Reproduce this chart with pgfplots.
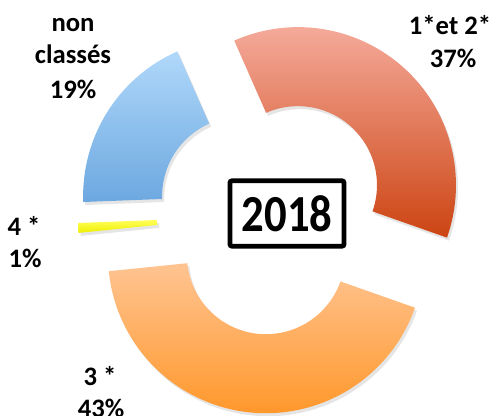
\documentclass[border=0pt]{standalone}
\usepackage{pgfplots}
\usepackage{pgfplotstable}
\pgfplotsset{compat=1.18}
\usepackage{fontspec}
\setmainfont{Carlito}

\definecolor{redtop}{RGB}{249,180,168}
\definecolor{redbot}{RGB}{204,68,18}
\definecolor{ortop}{RGB}{255,196,146}
\definecolor{orbot}{RGB}{255,146,30}
\definecolor{yltop}{RGB}{255,255,90}
\definecolor{ylbot}{RGB}{238,238,0}
\definecolor{bltop}{RGB}{176,216,250}
\definecolor{blbot}{RGB}{108,168,224}

% share (%), explosion offset (px)
\pgfplotstableread{
label pct offset
1et2 37 40
3 43 41
4 1 35
nc 19 35
}\donut

\newcommand{\sector}[4]{%
  \shade[#4]
   (axis cs:{\cx+#3*cos((#1+#2)/2)+\Ro*cos(#1)},{\cy+#3*sin((#1+#2)/2)+\Ro*sin(#1)})
   arc[start angle=#1,end angle=#2,radius=\Ro*0.75pt]
   -- (axis cs:{\cx+#3*cos((#1+#2)/2)+\Ri*cos(#2)},{\cy+#3*sin((#1+#2)/2)+\Ri*sin(#2)})
   arc[start angle=#2,end angle=#1,radius=\Ri*0.75pt] -- cycle;}
\newcommand{\sshadow}[3]{%
  \fill[black,opacity=0.10]
   (axis cs:{\cx+2+#3*cos((#1+#2)/2)+\Ro*cos(#1)},{\cy-3+#3*sin((#1+#2)/2)+\Ro*sin(#1)})
   arc[start angle=#1,end angle=#2,radius=\Ro*0.75pt]
   -- (axis cs:{\cx+2+#3*cos((#1+#2)/2)+\Ri*cos(#2)},{\cy-3+#3*sin((#1+#2)/2)+\Ri*sin(#2)})
   arc[start angle=#2,end angle=#1,radius=\Ri*0.75pt] -- cycle;}

\begin{document}
\begin{tikzpicture}
\def\cx{270.8}\def\cy{200.5}\def\Ro{158}\def\Ri{79}
\pgfplotstablegetelem{0}{pct}\of\donut\let\pA\pgfplotsretval
\pgfplotstablegetelem{1}{pct}\of\donut\let\pB\pgfplotsretval
\pgfplotstablegetelem{2}{pct}\of\donut\let\pC\pgfplotsretval
\pgfplotstablegetelem{3}{pct}\of\donut\let\pD\pgfplotsretval
\pgfplotstablegetelem{0}{offset}\of\donut\let\oA\pgfplotsretval
\pgfplotstablegetelem{1}{offset}\of\donut\let\oB\pgfplotsretval
\pgfplotstablegetelem{2}{offset}\of\donut\let\oC\pgfplotsretval
\pgfplotstablegetelem{3}{offset}\of\donut\let\oD\pgfplotsretval
\pgfmathsetmacro{\aA}{113.8}
\pgfmathsetmacro{\aB}{\aA-3.6*\pA}
\pgfmathsetmacro{\aC}{\aB-3.6*\pB}
\pgfmathsetmacro{\aD}{\aC-3.6*\pC}
\pgfmathsetmacro{\aE}{\aD-3.6*\pD}
\begin{axis}[width=372.75pt,height=311.25pt,scale only axis,
  xmin=0,xmax=497,ymin=0,ymax=415,axis lines=none,clip=false]
\sshadow{\aA}{\aB}{\oA}
\sshadow{\aB}{\aC}{\oB}
\sshadow{\aC}{\aD}{\oC}
\sshadow{\aD}{\aE}{\oD}
\sector{\aA}{\aB}{\oA}{top color=redtop,bottom color=redbot}
\sector{\aB}{\aC}{\oB}{top color=ortop,bottom color=orbot}
\sector{\aC}{\aD}{\oC}{top color=yltop,bottom color=ylbot}
\sector{\aD}{\aE}{\oD}{top color=bltop,bottom color=blbot}
\begin{scope}[every node/.style={font=\fontsize{20}{24}\selectfont\bfseries,anchor=base,inner sep=0pt}]
\node at (axis cs:73,{415-32}) {non};
\node at (axis cs:73,{415-63}) {classés};
\node at (axis cs:73,{415-98}) {19\%};
\node at (axis cs:450,{415-35}) {1*et 2*};
\node at (axis cs:453,{415-67}) {37\%};
\node at (axis cs:24,{415-235}) {4 *};
\node at (axis cs:25,{415-267}) {1\%};
\node at (axis cs:100,{415-385}) {3 *};
\node at (axis cs:101,{415-417}) {43\%};
\end{scope}
\node[draw,line width=3.6pt,rounded corners=1.5pt,minimum width=85.5pt,minimum height=49pt,inner sep=0pt,
  font=\fontsize{39}{44}\selectfont\bfseries] at (axis cs:287,{415-213.5}) {\scalebox{0.86}[1]{2018}};
\end{axis}
\pgfresetboundingbox
\path (current axis.south west) rectangle (current axis.north east);
\end{tikzpicture}
\end{document}
